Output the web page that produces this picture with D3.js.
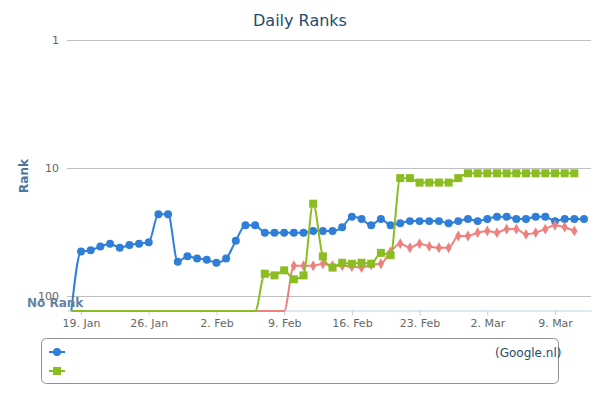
<!DOCTYPE html>
<html>
<head>
<meta charset="utf-8">
<script src="https://cdn.jsdelivr.net/npm/d3@7"></script>
<style>
  html, body { margin: 0; padding: 0; background: #fff; }
  svg { display: block; font-family: "DejaVu Sans", Verdana, sans-serif; }
</style>
</head>
<body>
<svg id="chart" width="600" height="400"></svg>
<script>
// ---- data ----
// 0 = "No Rank", null = no data
const startDate = Date.UTC(2015, 0, 18);
const blueRanks = [0,45,44,41,39,42,40,39,38,23,23,54,49,51,
  52,55,51,37,28,28,32,32,32,32,32,31,31,31,29,24,25,28,25,28,27,26,26,26,26,27,26,25,
  26,25,24,24,25,25,24,24,26,25,25,25];
const redRanks = [0,0,0,0,0,0,0,0,0,0,0,0,0,0,
  0,0,0,0,0,0,0,0,0,58,58,58,56,58,58,59,60,57,56,45,39,42,39,41,42,42,34,34,
  32,31,32,30,30,33,32,30,28,29,31,null];
const greenRanks = [0,0,0,0,0,0,0,0,0,0,0,0,0,0,
  0,0,0,0,0,0,67,69,63,74,69,19,49,60,55,56,55,56,46,48,12,12,13,13,13,13,12,11,
  11,11,11,11,11,11,11,11,11,11,11,null];
const yTicks = [1, 10, 100];
const xTickDates = ["2015-01-19","2015-01-26","2015-02-02","2015-02-09","2015-02-16","2015-02-23","2015-03-02","2015-03-09"];
const titleText = "Daily Ranks";
const yTitle = "Rank";
const noRankLabel = "No Rank";
const legendText = "(Google.nl)";

// ---- layout ----
const plot = { left: 67, right: 591, top: 40, bottom: 311 };
const DAY = 86400000;
const svg = d3.select("#chart");

const dates = blueRanks.map((_, i) => new Date(startDate + i * DAY));
const x = d3.scaleUtc()
  .domain([new Date(startDate - 0.45 * DAY), new Date(dates[dates.length - 1].getTime() + 0.72 * DAY)])
  .range([plot.left, plot.right]);
const y = d3.scaleLog().domain([1, 100]).range([40, 296]);
const yPos = v => v === 0 ? plot.bottom : y(v);

// title
svg.append("text").attr("x", 300).attr("y", 25.5).attr("text-anchor", "middle")
  .attr("fill", "#274b6d").style("font-size", "16px").text(titleText);

// grid lines
svg.append("g").selectAll("line").data(yTicks).join("line")
  .attr("x1", plot.left).attr("x2", plot.right)
  .attr("y1", d => Math.round(y(d)) + 0.5).attr("y2", d => Math.round(y(d)) + 0.5)
  .attr("stroke", "#C0C0C0").attr("stroke-width", 1);

// y labels
svg.append("g").selectAll("text").data(yTicks).join("text")
  .attr("x", 59).attr("y", d => y(d) + 4).attr("text-anchor", "end")
  .attr("fill", "#666").style("font-size", "11px").text(d => d);

// y axis title
svg.append("text").attr("transform", "translate(28,176) rotate(-90)")
  .attr("text-anchor", "middle").attr("fill", "#4d759e")
  .style("font-size", "12px").style("font-weight", "bold").text(yTitle);

// x axis
const xAxis = d3.axisBottom(x)
  .tickValues(xTickDates.map(s => new Date(s + "T00:00:00Z")))
  .tickFormat(d3.utcFormat("%-d. %b"))
  .tickSizeOuter(0).tickSizeInner(5).tickPadding(4);
const gx = svg.append("g").attr("transform", `translate(0,${plot.bottom - 0.5})`).call(xAxis);
gx.select(".domain").attr("stroke", "#C0D0E0");
gx.selectAll(".tick line").attr("stroke", "#C0D0E0");
gx.selectAll(".tick text").attr("fill", "#666").style("font-size", "11px")
  .style("font-family", "DejaVu Sans, sans-serif");

// series
const series = [
  { ranks: blueRanks, color: "#2f7ed8", marker: "circle" },
  { ranks: redRanks, color: "#ee8080", marker: "diamond" },
  { ranks: greenRanks, color: "#8bbc21", marker: "square" }
];
const line = d3.line()
  .defined(d => d.v !== null)
  .x(d => x(d.date)).y(d => yPos(d.v))
  .curve(d3.curveMonotoneX);

const symbolFor = m => m === "circle" ? d3.symbolCircle : m === "square" ? d3.symbolSquare : d3.symbolDiamond;
const sizeFor = m => m === "circle" ? 50 : m === "square" ? 64 : 34;

series.forEach(s => {
  const pts = s.ranks.map((v, i) => ({ date: dates[i], v }));
  const g = svg.append("g");
  g.append("path").datum(pts).attr("d", line)
    .attr("fill", "none").attr("stroke", s.color).attr("stroke-width", 2)
    .attr("stroke-linejoin", "round");
  g.selectAll("path.m").data(pts.filter(d => d.v !== null && d.v > 0)).join("path")
    .attr("class", "m")
    .attr("transform", d => `translate(${x(d.date)},${yPos(d.v)})`)
    .attr("d", d3.symbol().type(symbolFor(s.marker)).size(sizeFor(s.marker)))
    .attr("fill", s.color);
});

// No Rank label
svg.append("text").attr("x", 27).attr("y", 306.5).attr("fill", "#6682a4")
  .style("font-size", "12px").style("font-weight", "bold").text(noRankLabel);

// legend
const lg = svg.append("g");
lg.append("rect").attr("x", 41.5).attr("y", 338.5).attr("width", 517).attr("height", 45)
  .attr("rx", 5).attr("fill", "none").attr("stroke", "#909090").attr("stroke-width", 1);
const legendItems = [
  { s: series[0], y: 352 },
  { s: series[2], y: 371 }
];
legendItems.forEach(it => {
  lg.append("line").attr("x1", 49).attr("x2", 65).attr("y1", it.y).attr("y2", it.y)
    .attr("stroke", it.s.color).attr("stroke-width", 2);
  lg.append("path").attr("transform", `translate(57,${it.y})`)
    .attr("d", d3.symbol().type(symbolFor(it.s.marker)).size(sizeFor(it.s.marker)))
    .attr("fill", it.s.color);
});
lg.append("text").attr("x", 495).attr("y", 356.5).attr("fill", "#274b6d")
  .style("font-size", "12px").text(legendText);
</script>
</body>
</html>
